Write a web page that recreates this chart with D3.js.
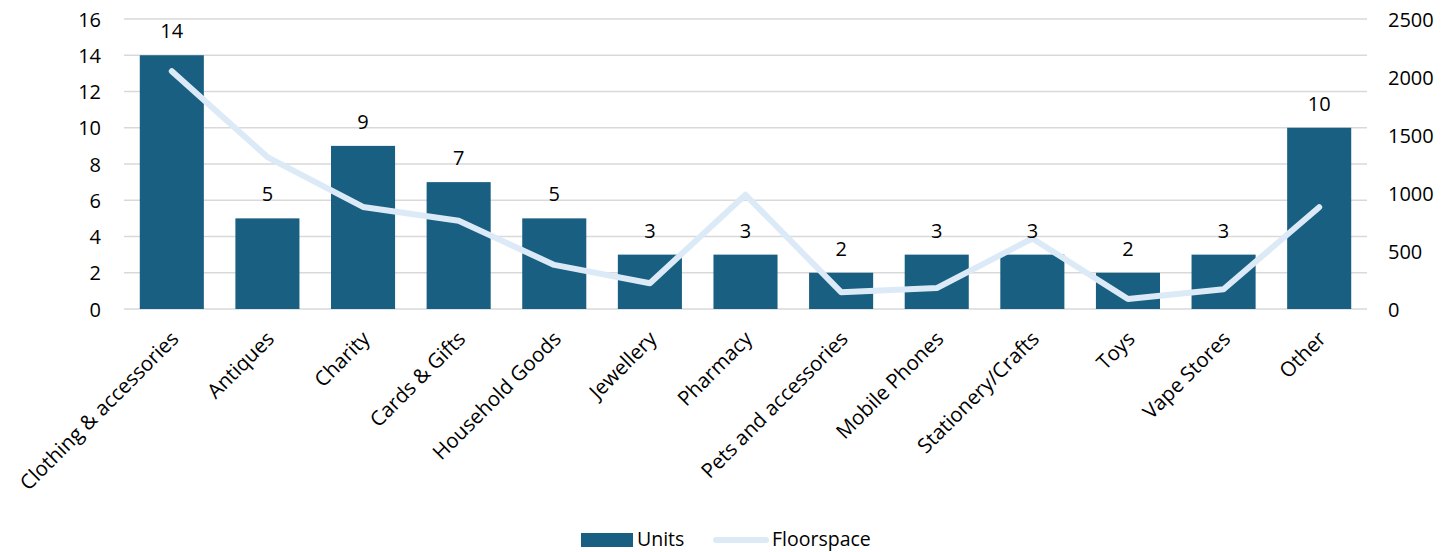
<!DOCTYPE html>
<html>
<head>
<meta charset="utf-8">
<script src="https://cdn.jsdelivr.net/npm/d3@7"></script>
<style>
  body { margin: 0; background: #fff; }
  svg text { font-family: "Open Sans", Lato, sans-serif; fill: #000; }
</style>
</head>
<body>
<svg id="chart" width="1441" height="552"></svg>
<script>
// chart data
var categories = ["Clothing & accessories", "Antiques", "Charity", "Cards & Gifts", "Household Goods",
    "Jewellery", "Pharmacy", "Pets and accessories", "Mobile Phones", "Stationery/Crafts",
    "Toys", "Vape Stores", "Other"];
var units = [14, 5, 9, 7, 5, 3, 3, 2, 3, 3, 2, 3, 10];
var floorspace = [2050, 1310, 880, 760, 380, 222, 985, 145, 180, 608, 86, 170, 878];
var leftTicks = [0, 2, 4, 6, 8, 10, 12, 14, 16];
var rightTicks = [0, 500, 1000, 1500, 2000, 2500];

var barColor = "#185f81";
var lineColor = "#dceaf7";
var fontSize = "20px";

var svg = d3.select("#chart");
var plotLeft = 124, plotRight = 1367, plotTop = 19, plotBottom = 309;

var x = d3.scaleBand()
    .domain(categories)
    .range([plotLeft, plotRight])
    .paddingInner(0.33)
    .paddingOuter(0.165);

var yL = d3.scaleLinear().domain([0, 16]).range([plotBottom, plotTop]);
var yR = d3.scaleLinear().domain([0, 2500]).range([plotBottom, plotTop]);

// gridlines
svg.append("g")
    .selectAll("line")
    .data(leftTicks)
    .enter()
    .append("line")
    .attr("x1", plotLeft)
    .attr("x2", plotRight)
    .attr("y1", d => yL(d))
    .attr("y2", d => yL(d))
    .attr("stroke", "#d9d9d9")
    .attr("stroke-width", 1.5);

// left axis
var axisL = svg.append("g")
    .attr("transform", "translate(" + (plotLeft - 23) + ",0)")
    .call(d3.axisLeft(yL).tickValues(leftTicks).tickSize(0).tickPadding(0));
axisL.select(".domain").remove();
axisL.selectAll("text").style("font-size", fontSize).attr("dy", "0.35em");

// right axis
var axisR = svg.append("g")
    .attr("transform", "translate(" + (plotRight + 21) + ",0)")
    .call(d3.axisRight(yR).tickValues(rightTicks).tickFormat(d3.format("d")).tickSize(0).tickPadding(0));
axisR.select(".domain").remove();
axisR.selectAll("text").style("font-size", fontSize).attr("dy", "0.35em");

// bars
svg.append("g")
    .selectAll("rect")
    .data(categories)
    .enter()
    .append("rect")
    .attr("x", d => x(d))
    .attr("width", x.bandwidth())
    .attr("y", (d, i) => yL(units[i]))
    .attr("height", (d, i) => yL(0) - yL(units[i]))
    .attr("fill", barColor);

// floorspace line
var line = d3.line()
    .x((d, i) => x(categories[i]) + x.bandwidth() / 2)
    .y(d => yR(d));

svg.append("path")
    .datum(floorspace)
    .attr("d", line)
    .attr("fill", "none")
    .attr("stroke", lineColor)
    .attr("stroke-width", 6)
    .attr("stroke-linecap", "round")
    .attr("stroke-linejoin", "round");

// bar value labels
svg.append("g")
    .selectAll("text")
    .data(categories)
    .enter()
    .append("text")
    .attr("x", d => x(d) + x.bandwidth() / 2)
    .attr("y", (d, i) => yL(units[i]) - 17)
    .attr("text-anchor", "middle")
    .style("font-size", fontSize)
    .text((d, i) => units[i]);

// category labels, rotated
svg.append("g")
    .selectAll("text")
    .data(categories)
    .enter()
    .append("text")
    .attr("transform", d => "translate(" + (x(d) + x.bandwidth() / 2 + 3) + "," + (plotBottom + 26) + ") rotate(-45)")
    .attr("text-anchor", "end")
    .attr("dy", "0.35em")
    .style("font-size", "20.5px")
    .text(d => d);

// legend
var legend = svg.append("g");
legend.append("rect")
    .attr("x", 581).attr("y", 533)
    .attr("width", 52).attr("height", 14)
    .attr("fill", barColor);
legend.append("text")
    .attr("x", 637).attr("y", 546)
    .style("font-size", "19.5px")
    .text("Units");
legend.append("line")
    .attr("x1", 716).attr("x2", 766)
    .attr("y1", 540).attr("y2", 540)
    .attr("stroke", lineColor)
    .attr("stroke-width", 6)
    .attr("stroke-linecap", "round");
legend.append("text")
    .attr("x", 772).attr("y", 546)
    .style("font-size", "19.5px")
    .text("Floorspace");
</script>
</body>
</html>
